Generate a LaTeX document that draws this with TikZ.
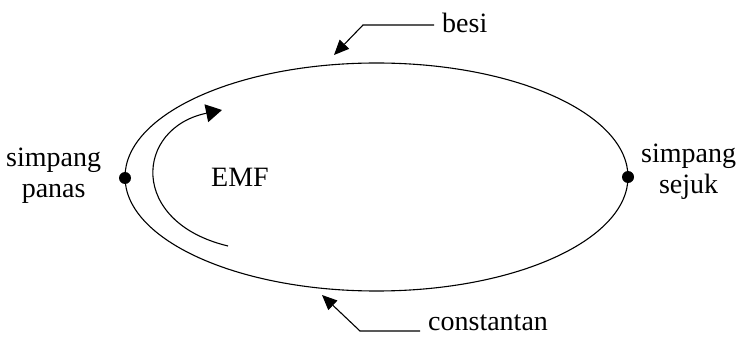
\documentclass[tikz,border=0pt]{standalone}
\usepackage{fontspec}
\setmainfont{Liberation Serif}
\usetikzlibrary{arrows.meta}
\begin{document}
\begin{tikzpicture}[x=1pt,y=-1pt,
  lbl/.style={font=\fontsize{28}{31}\selectfont, inner sep=0pt, align=center},
  wire/.style={line width=1.1pt},
  ptr/.style={line width=1.1pt, -{Triangle[length=15pt,width=13pt]}},
  junction/.style={circle, fill=black, inner sep=0pt, minimum size=12pt}]
\useasboundingbox (0,0) rectangle (741,339);
\draw[wire] (376.5,177) ellipse [x radius=251.5, y radius=114];
\node[junction] (hot) at (125,178) {};
\node[junction] (cold) at (628,177) {};
\node[lbl, anchor=west] (lh) at (6,176) {simpang\\panas};
\node[lbl, anchor=west] (lc) at (641,172) {simpang\\sejuk};
\node[lbl] (emf) at (240,177) {EMF};
\node[lbl, anchor=west] (besi) at (442,23) {besi};
\node[lbl, anchor=west] (const) at (428,323) {constantan};
\coordinate (bt) at (334,55);
\coordinate (bk) at (363,25);
\coordinate (ct) at (322,295);
\coordinate (ck) at (360,331);
\draw[ptr] (besi.west) ++(-8,2) -- (bk) -- (bt);
\draw[ptr] (const.west) ++(-8,8) -- (ck) -- (ct);
\coordinate (es) at (228,246);
\coordinate (ee) at (222,110);
\draw[line width=1.1pt, -{Triangle[length=16pt,width=18pt]}] (es) .. controls (128,222) and (135,128) .. (ee);
\end{tikzpicture}
\end{document}
